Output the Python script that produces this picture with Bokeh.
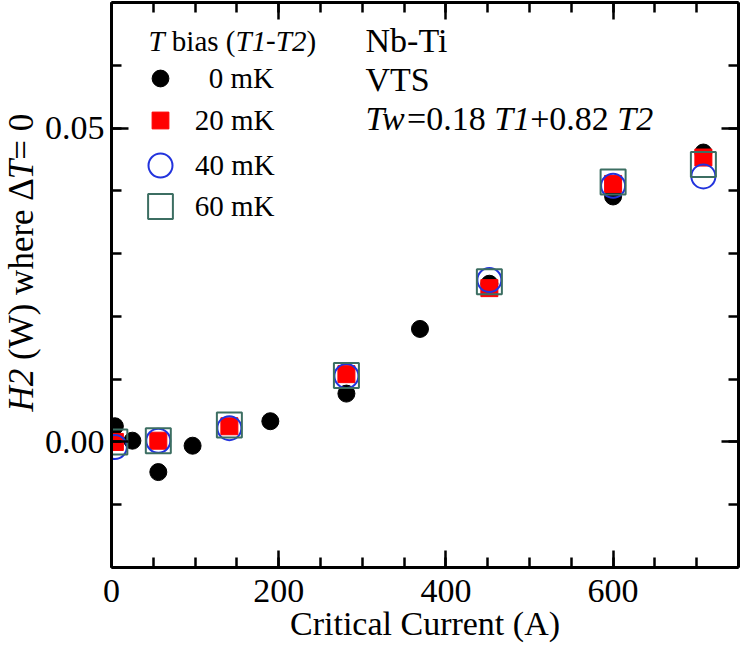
from math import pi
from bokeh.plotting import figure
from bokeh.layouts import row
from bokeh.models import (Range1d, LinearAxis, SingleIntervalTicker, NumeralTickFormatter,
                          CustomJSTickFormatter, Label, Legend, LegendItem)
from bokeh.embed import file_html
from bokeh.resources import INLINE

# ---------------- data ----------------
cur_0mK = [4, 25, 56, 97, 190, 281, 369, 452, 600, 708]
h2_0mK = [0.0025, 0.0002, -0.0048, -0.0006, 0.0033, 0.0077, 0.0180, 0.0252, 0.0391, 0.0461]

cur_20mK = [4, 56, 141, 281, 452, 600, 708]
h2_20mK = [0.0000, 0.0002, 0.0025, 0.0108, 0.0245, 0.0411, 0.0453]

cur_40mK = [4, 56, 141, 281, 452, 600, 708]
h2_40mK = [-0.0008, 0.0002, 0.0022, 0.0105, 0.0258, 0.0408, 0.0423]

cur_60mK = [4, 56, 141, 281, 452, 600, 708]
h2_60mK = [0.0000, 0.0002, 0.0027, 0.0106, 0.0255, 0.0414, 0.0442]

series_labels = ["0 mK", "20 mK", "40 mK", "60 mK"]
x_label = "Critical Current (A)"
y_label_runs = [("H2", True), (" (W) where ", False), ("\u0394", False), ("T", True), ("= 0", False)]
legend_title_runs = [("T", True), (" bias (", False), ("T1", True), ("-", False), ("T2", True), (")", False)]
note_lines = ["Nb-Ti", "VTS"]
note_formula_runs = [("Tw", True), ("=0.18 ", False), ("T1", True), ("+0.82 ", False), ("T2", True)]

# ---------------- layout constants (page pixels) ----------------
SERIF = "Liberation Serif"
TOTAL_W, TOTAL_H = 740, 644
YLAB_W = 41                       # narrow strip holding the rotated y title
FRAME_L, FRAME_R, FRAME_T, FRAME_B = 108, 738, 2, 568
BASE_FIX = 12                     # renderer places alphabetic baselines this much lower

def rx(sx):
    return sx - FRAME_L

def ry(sy):
    return FRAME_B - sy + BASE_FIX

# Times / Liberation Serif advance widths (em)
W_REG = {' ': .25, '(': .333, ')': .333, '-': .333, '=': .564, '+': .564, '.': .25,
         'A': .722, 'C': .667, 'H': .722, 'N': .722, 'S': .556, 'T': .611, 'V': .722, 'W': .944,
         'K': .722, 'a': .444, 'b': .5, 'c': .444, 'e': .444, 'h': .5, 'i': .278, 'l': .278,
         'm': .778, 'n': .5, 'r': .333, 's': .389, 't': .278, 'u': .5, 'w': .722, '\u0394': .612}
W_ITA = {'T': .556, 'w': .667, 'H': .722}

def run_width(txt, ital, size):
    tot = 0.0
    for ch in txt:
        if ch.isdigit():
            tot += .5
        elif ital and ch in W_ITA:
            tot += W_ITA[ch]
        else:
            tot += W_REG.get(ch, .5)
    return tot * size

def add_runs(fig, runs, x0, y0, size, angle=0.0):
    pos = 0.0
    for txt, ital in runs:
        lead = len(txt) - len(txt.lstrip(' '))
        core = txt.strip(' ')
        start = pos + lead * 0.25 * size
        if angle == 0:
            x, y = x0 + start, y0
        else:
            x, y = x0, y0 + start
        fig.add_layout(Label(x=x, y=y, x_units="screen", y_units="screen", text=core,
                             angle=angle, text_font=SERIF, text_font_size=f"{size}px",
                             text_font_style="italic" if ital else "normal",
                             text_align="left", text_baseline="alphabetic", text_color="black"))
        pos += run_width(txt, ital, size)

# ---------------- main plot ----------------
p = figure(width=TOTAL_W - YLAB_W, height=TOTAL_H, output_backend="svg", toolbar_location=None,
           x_range=Range1d(0, 750), y_range=Range1d(-0.02, 0.07),
           min_border_left=FRAME_L - YLAB_W, min_border_right=TOTAL_W - FRAME_R,
           min_border_top=FRAME_T, min_border_bottom=TOTAL_H - FRAME_B,
           background_fill_color="white", border_fill_color="white")
p.outline_line_color = None
p.xgrid.visible = False
p.ygrid.visible = False

xticker = SingleIntervalTicker(interval=200, num_minor_ticks=4)
yticker = SingleIntervalTicker(interval=0.05, num_minor_ticks=5)

def style_axis(ax):
    ax.axis_line_width = 3
    ax.axis_line_color = "black"
    ax.major_tick_in = 17
    ax.major_tick_out = 0
    ax.minor_tick_in = 10
    ax.minor_tick_out = 0
    ax.major_tick_line_width = 2.5
    ax.minor_tick_line_width = 2.5
    ax.major_tick_line_color = "black"
    ax.minor_tick_line_color = "black"
    ax.major_label_text_font = SERIF
    ax.major_label_text_font_size = "34px"
    ax.major_label_text_color = "black"

xa = p.xaxis[0]
xa.ticker = xticker
style_axis(xa)
xa.major_label_standoff = 12
xa.axis_label = x_label
xa.axis_label_text_font = SERIF
xa.axis_label_text_font_size = "34px"
xa.axis_label_text_font_style = "normal"
xa.axis_label_text_color = "black"
xa.axis_label_standoff = 0

ya = p.yaxis[0]
ya.ticker = yticker
ya.formatter = NumeralTickFormatter(format="0.00")
style_axis(ya)
ya.major_label_standoff = 7

blank = CustomJSTickFormatter(code="return ''")
top = LinearAxis(ticker=xticker, formatter=blank)
right = LinearAxis(ticker=yticker, formatter=blank)
for ax in (top, right):
    style_axis(ax)
    ax.major_label_text_font_size = "0px"
    ax.major_label_standoff = 0
p.add_layout(top, "above")
p.add_layout(right, "right")

# ---------------- data marks ----------------
r0 = p.scatter(cur_0mK, h2_0mK, marker="circle", size=17, fill_color="black", line_color="black")
r20 = p.scatter(cur_20mK, h2_20mK, marker="square", size=17, fill_color="#ff0000", line_color="#ff0000")
r40 = p.scatter(cur_40mK, h2_40mK, marker="circle", size=24, fill_color=None,
                line_color="#2233dd", line_width=2)
r60 = p.scatter(cur_60mK, h2_60mK, marker="square", size=25, fill_color=None,
                line_color="#3c6e62", line_width=2)

# ---------------- legend (one per entry so each key keeps its own size) ----------------
leg_specs = [(r0, 17, 79, 206), (r20, 17, 121, 192), (r40, 24, 166, 192), (r60, 25, 207, 192)]
for (rend, size, cy, lab_x), lab in zip(leg_specs, series_labels):
    box = size / 0.4
    left = 157 - box / 2
    leg = Legend(items=[LegendItem(label=lab, renderers=[rend])],
                 location=(rx(left), FRAME_B - cy - box / 2),
                 glyph_width=int(round(box)), glyph_height=int(round(box)),
                 label_standoff=int(round(lab_x - left - box)),
                 padding=0, margin=0, spacing=0,
                 border_line_color=None, background_fill_alpha=0,
                 label_text_font=SERIF, label_text_font_size="29px", label_text_color="black")
    p.add_layout(leg)

add_runs(p, legend_title_runs, rx(145), ry(53), 29)

# ---------------- notes ----------------
for txt, base in zip(note_lines, [53, 92]):
    add_runs(p, [(txt, False)], rx(362), ry(base), 34)
add_runs(p, note_formula_runs, rx(362), ry(131), 34)

# ---------------- rotated y title (mixed italic) in a narrow strip ----------------
ylab = figure(width=YLAB_W, height=TOTAL_H, output_backend="svg", toolbar_location=None,
              x_axis_location=None, y_axis_location=None,
              min_border_left=0, min_border_right=0,
              min_border_top=FRAME_T, min_border_bottom=TOTAL_H - FRAME_B,
              x_range=Range1d(0, 1), y_range=Range1d(0, 1),
              background_fill_color="white", border_fill_color="white")
ylab.outline_line_color = None
ylab.grid.visible = False
add_runs(ylab, y_label_runs, 33 - BASE_FIX, FRAME_B - 412, 35, angle=pi / 2)

layout = row(ylab, p)
open("out.html", "w").write(file_html(layout, INLINE))
